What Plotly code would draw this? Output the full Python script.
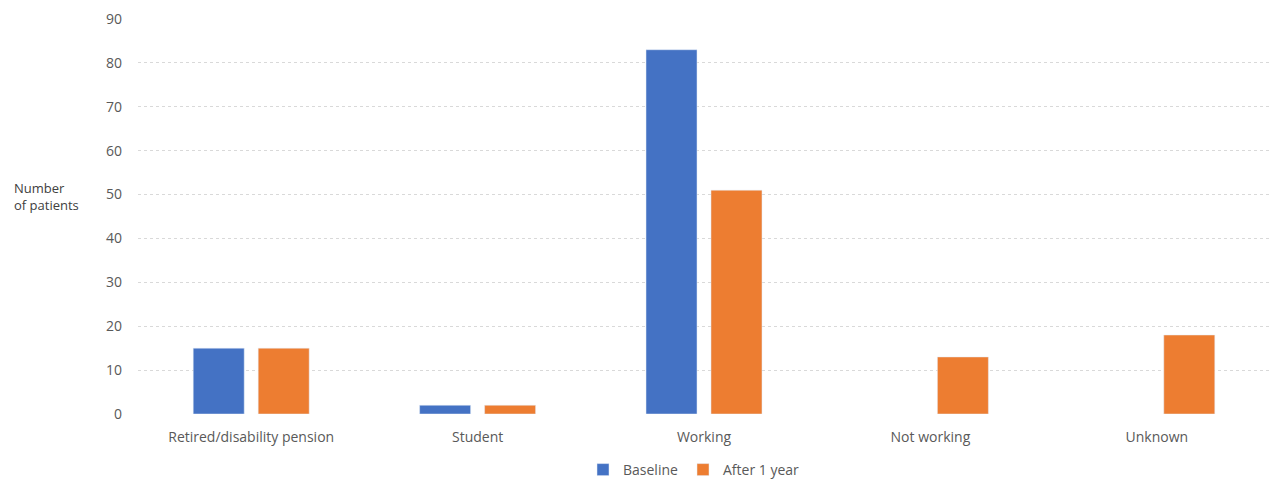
import plotly.graph_objects as go

categories = ["Retired/disability pension", "Student", "Working", "Not working", "Unknown"]
baseline = [15, 2, 83, None, None]
after_1_year = [15, 2, 51, 13, 18]
y_ticks = [0, 10, 20, 30, 40, 50, 60, 70, 80, 90]

font_family = "'Open Sans', Lato, Arial, sans-serif"
grey = "#595959"

fig = go.Figure()
fig.add_trace(go.Bar(x=categories, y=baseline, name="Baseline", marker_color="#4472C4"))
fig.add_trace(go.Bar(x=categories, y=after_1_year, name="After 1 year", marker_color="#ED7D31"))

fig.update_layout(
    width=1277, height=481,
    margin=dict(l=138, r=7, t=19, b=67, autoexpand=False),
    paper_bgcolor="white", plot_bgcolor="white",
    barmode="group", bargap=0.426, bargroupgap=0.215,
    font=dict(family=font_family, size=14, color=grey),
    legend=dict(orientation="h", x=694 / 1277, xanchor="center", xref="container",
                y=(481 - 470) / 481, yanchor="middle", yref="container",
                font=dict(size=14, color=grey), itemwidth=30, traceorder="normal"),
    xaxis=dict(showgrid=False, showline=False, ticks="", automargin=False,
               tickfont=dict(size=14, color=grey), ticklabelstandoff=13),
    yaxis=dict(range=[0, 90], tickvals=y_ticks, showgrid=True, gridcolor="#d9d9d9",
               griddash="dot", gridwidth=1, zeroline=False, showline=False, automargin=False,
               tickfont=dict(size=14, color=grey), ticks="", ticklabelstandoff=15),
)
fig.add_annotation(text="Number<br>of patients", xref="paper", yref="paper",
                   x=-0.111, y=0.551, xanchor="left", yanchor="middle", align="left",
                   showarrow=False, font=dict(size=13, color="#404040"))

fig.write_html("out.html")
